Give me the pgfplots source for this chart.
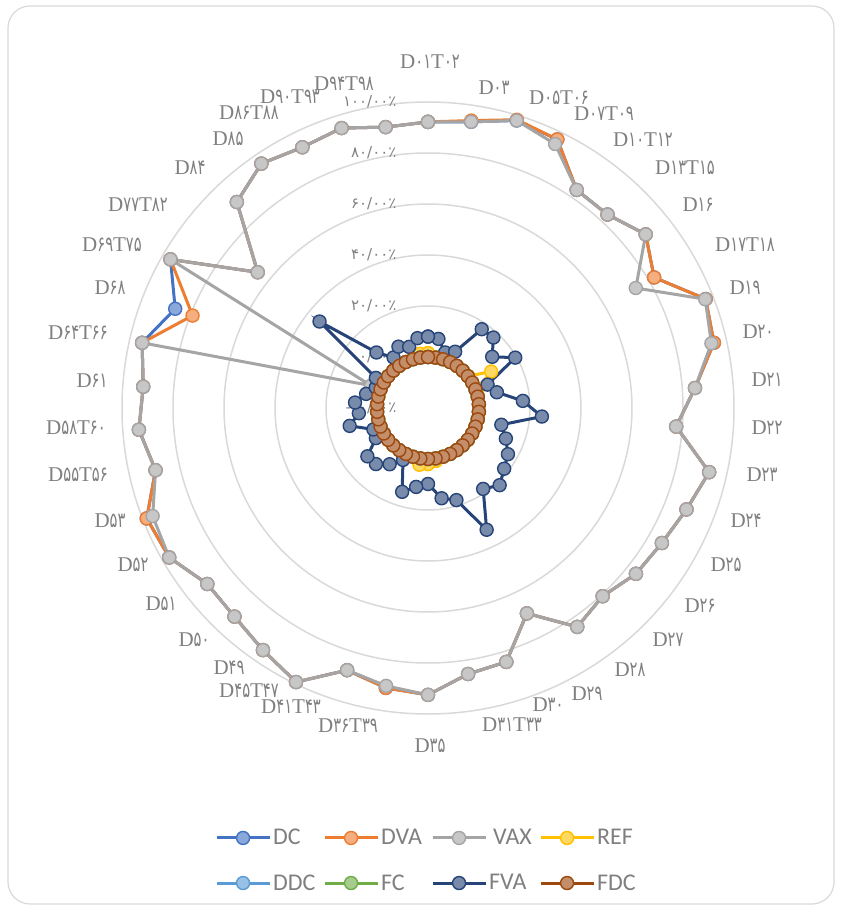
\documentclass[border=0pt]{standalone}
\usepackage{fontspec}
\setmainfont{Liberation Serif}
\newfontfamily\pf[FakeStretch=0.7]{DejaVu Sans}
\newfontfamily\pft{DejaVu Sans}
\newfontfamily\legfont{Carlito}
\usepackage{pgfplots}
\usepgfplotslibrary{polar}
\pgfplotsset{compat=1.18}
\usepackage{pgfplotstable}
\definecolor{cDC}{HTML}{4472C4}
\definecolor{cDVA}{HTML}{ED7D31}
\definecolor{cVAX}{HTML}{A5A5A5}
\definecolor{cREF}{HTML}{FFC000}
\definecolor{cDDC}{HTML}{5B9BD5}
\definecolor{cFC}{HTML}{70AD47}
\definecolor{cFVA}{HTML}{264478}
\definecolor{cFDC}{HTML}{9E480E}
\definecolor{labgray}{HTML}{7F7F7F}
\definecolor{gridgray}{HTML}{D9D9D9}
\newcommand\p[1]{{\pf #1}}
\newcommand\lab[3]{\node[font=\fontsize{21}{21}\selectfont, text=labgray, inner sep=0pt] at (#1pt,{910pt-#2pt}) {#3};}
\newcommand\rt[2]{\node[anchor=east, text=labgray, font=\pft\fontsize{15}{15}\selectfont, xshift=-28pt] at (axis cs:90,#1) {#2};}

\pgfplotstableread{
i DC DVA VAX REF DDC FC FVA FDC
0 92.2 92.2 92.2 1.5 0 0 8.0 0
1 93.5 94.0 93.5 0 0 0 7.4 0
2 98.0 98.3 98.0 0 0 0 2.8 0
3 96.9 96.9 94.9 0 0 0 4.5 0
4 83.5 83.5 83.5 0 0 0 17.4 0
5 83.5 83.5 83.5 0 0 0 17.7 0
6 89.2 89.2 89.2 0 0 0 12.2 0
7 82.4 82.4 74.1 8.6 0 0 19.5 0
8 97.0 97.0 96.8 1.0 0 0 5.1 0
9 95.0 95.0 94.0 0 0 0 7.7 0
10 85.0 85.0 85.0 0 0 0 17.3 0
11 77.6 77.6 77.6 0 0 0 24.8 0
12 93.1 93.1 93.1 0 0 0 9.5 0
13 88.9 88.9 88.9 0 0 0 12.8 0
14 85.9 85.9 85.9 0 0 0 16.2 0
15 84.3 84.3 84.3 0 0 0 18.2 0
16 80.7 80.7 80.7 0 0 0 21.3 0
17 83.9 83.9 83.9 0 0 0 18.4 0
18 69.4 69.4 69.4 0 0 0 33.0 0
19 84.2 84.2 84.2 0 0 0 17.8 0
20 85.5 85.5 85.5 1.0 0 0 15.8 0
21 92.5 92.5 92.5 2.0 0 0 9.8 0
22 91.0 91.0 90.2 2.5 0 0 11.3 0
23 87.6 87.6 87.6 0 0 0 14.4 0
24 99.3 99.3 99.3 0 0 0 2.6 0
25 94.9 94.9 94.9 0 0 0 6.7 0
26 91.6 91.6 91.6 0 0 0 10.0 0
27 90.7 90.7 90.7 0 0 0 10.4 0
28 97.2 97.2 97.2 0 0 0 3.6 0
29 98.5 98.5 96.0 0 0 0 3.0 0
30 89.6 89.6 89.6 0 0 0 11.5 0
31 93.7 93.7 93.7 0 0 0 7.2 0
32 92.0 92.0 92.0 0 0 0 8.7 0
33 95.0 95.0 95.0 0 0 0 4.9 0
34 86.5 79.2 4.0 0 0 0 2.0 0
35 96.6 96.6 96.6 0 0 0 3.6 0
36 65.4 65.4 65.4 0 0 0 34.4 0
37 90.2 90.2 90.2 0 0 0 9.7 0
38 96.0 96.0 96.0 0 0 0 4.0 0
39 93.5 93.5 93.5 0 0 0 6.7 0
40 94.9 94.9 94.9 0 0 0 5.1 0
41 91.4 91.4 91.4 1.5 0 0 7.7 0
42 92.2 92.2 92.2 1.5 0 0 8.0 0
}\data

\pgfplotsset{
  ser/.style={draw=#1, line width=3pt, mark=*, mark size=6.5pt,
    mark options={solid, draw=#1, fill=#1!62!white, line width=1.4pt}},
}

\begin{document}
\begin{tikzpicture}
\path[use as bounding box] (0pt,0pt) rectangle (842pt,910pt);
\draw[draw=gridgray, line width=1.2pt, rounded corners=22pt] (8pt,6pt) rectangle (834pt,904pt);
\begin{polaraxis}[
  at={(428pt,502pt)}, anchor=center,
  width=612pt, height=612pt, scale only axis,
  xmin=0, xmax=360, ymin=0, ymax=120,
  clip=false,
  xtick=\empty,
  ytick={0,20,40,60,80,100,120}, yticklabels={},
  ymajorgrids, xmajorgrids=false,
  major tick length=0pt,
  grid style={draw=gridgray, line width=1.5pt},
  axis line style={draw=none},
  legend columns=4,
  legend style={at={(0.505,-0.185)}, anchor=north, draw=none, fill=none,
    font=\legfont\fontsize{24}{24}\selectfont, text=labgray,
    row sep=24pt, inner sep=0pt},
  legend cell align=left,
  legend image code/.code={\draw[mark repeat=2,mark phase=2,#1] plot coordinates {(0pt,0pt) (26.5pt,0pt) (53pt,0pt)};},
]
\rt{120}{۱۰۰/۰۰٪}
\rt{100}{۸۰/۰۰٪}
\rt{80}{۶۰/۰۰٪}
\rt{60}{۴۰/۰۰٪}
\rt{40}{۲۰/۰۰٪}
\rt{20}{۰/۰۰٪}
\rt{0}{-۲۰/۰۰٪}
\addplot[ser=cDC] table[x expr={mod(450-\thisrow{i}*360/42,360)}, y expr={\thisrow{DC}+20}] {\data};
\addlegendentry{\makebox[48pt][l]{DC}}
\addplot[ser=cDVA] table[x expr={mod(450-\thisrow{i}*360/42,360)}, y expr={\thisrow{DVA}+20}] {\data};
\addlegendentry{\makebox[48pt][l]{DVA}}
\addplot[ser=cVAX] table[x expr={mod(450-\thisrow{i}*360/42,360)}, y expr={\thisrow{VAX}+20}] {\data};
\addlegendentry{\makebox[48pt][l]{\hspace{4pt}VAX}}
\addplot[ser=cREF] table[x expr={mod(450-\thisrow{i}*360/42,360)}, y expr={\thisrow{REF}+20}] {\data};
\addlegendentry{\makebox[48pt][l]{REF}}
\addplot[ser=cDDC] table[x expr={mod(450-\thisrow{i}*360/42,360)}, y expr={\thisrow{DDC}+20}] {\data};
\addlegendentry{\makebox[48pt][l]{DDC}}
\addplot[ser=cFC] table[x expr={mod(450-\thisrow{i}*360/42,360)}, y expr={\thisrow{FC}+20}] {\data};
\addlegendentry{\makebox[48pt][l]{FC}}
\addplot[ser=cFVA] table[x expr={mod(450-\thisrow{i}*360/42,360)}, y expr={\thisrow{FVA}+20}] {\data};
\addlegendentry{\makebox[48pt][l]{FVA}}
\addplot[ser=cFDC] table[x expr={mod(450-\thisrow{i}*360/42,360)}, y expr={\thisrow{FDC}+20}] {\data};
\addlegendentry{\makebox[48pt][l]{FDC}}
\end{polaraxis}
\lab{430}{62}{D\p{۰۱}T\p{۰۲}}
\lab{494}{88}{D\p{۰۳}}
\lab{559}{98}{D\p{۰۵}T\p{۰۶}}
\lab{604}{114}{D\p{۰۷}T\p{۰۹}}
\lab{643}{140}{D\p{۱۰}T\p{۱۲}}
\lab{685}{168}{D\p{۱۳}T\p{۱۵}}
\lab{698}{205}{D\p{۱۶}}
\lab{745}{245}{D\p{۱۷}T\p{۱۸}}
\lab{745}{288}{D\p{۱۹}}
\lab{758}{332}{D\p{۲۰}}
\lab{767}{380}{D\p{۲۱}}
\lab{767}{428}{D\p{۲۲}}
\lab{762}{475}{D\p{۲۳}}
\lab{746}{521}{D\p{۲۴}}
\lab{726}{565}{D\p{۲۵}}
\lab{700}{606}{D\p{۲۶}}
\lab{668}{640}{D\p{۲۷}}
\lab{630}{670}{D\p{۲۸}}
\lab{587}{694}{D\p{۲۹}}
\lab{548}{705}{D\p{۳۰}}
\lab{512}{725}{D\p{۳۱}T\p{۳۳}}
\lab{430}{746}{D\p{۳۵}}
\lab{348}{726}{D\p{۳۶}T\p{۳۹}}
\lab{291}{707}{D\p{۴۱}T\p{۴۳}}
\lab{249}{691}{D\p{۴۵}T\p{۴۷}}
\lab{229}{668}{D\p{۴۹}}
\lab{194}{640}{D\p{۵۰}}
\lab{161}{604}{D\p{۵۱}}
\lab{133}{565}{D\p{۵۲}}
\lab{110}{521}{D\p{۵۳}}
\lab{78}{475}{D\p{۵۵}T\p{۵۶}}
\lab{76}{428}{D\p{۵۸}T\p{۶۰}}
\lab{92}{381}{D\p{۶۱}}
\lab{78}{333}{D\p{۶۴}T\p{۶۶}}
\lab{110}{288}{D\p{۶۸}}
\lab{112}{245}{D\p{۶۹}T\p{۷۵}}
\lab{138}{205}{D\p{۷۷}T\p{۸۲}}
\lab{190}{168}{D\p{۸۴}}
\lab{228}{139}{D\p{۸۵}}
\lab{249}{113}{D\p{۸۶}T\p{۸۸}}
\lab{290}{97}{D\p{۹۰}T\p{۹۳}}
\lab{344}{84}{D\p{۹۴}T\p{۹۸}}
\end{tikzpicture}
\end{document}
